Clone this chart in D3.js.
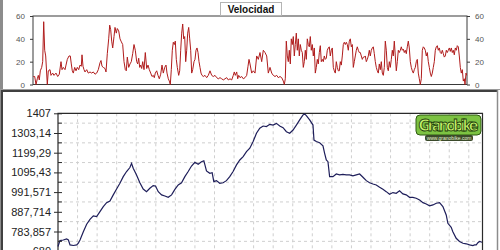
<!DOCTYPE html>
<html>
<head>
<meta charset="utf-8">
<script src="https://cdn.jsdelivr.net/npm/d3@7/dist/d3.min.js"></script>
<style>
body { margin: 0; background: #fff; }
svg { display: block; font-family: Arial, "Liberation Sans", sans-serif; }
</style>
</head>
<body>
<script>
(function(){

//speed profile: distance (km) and speed (km/h)
var speedKm = [0.03,0.17,0.30,0.43,0.53,0.63,0.73,0.87,0.97,1.07,1.17,1.27,1.43,1.53,1.70,1.80,1.97,2.10,2.30,2.47,2.63,2.80,2.90,3.03,3.20,3.30,3.43,3.60,3.73,3.83,3.93,4.03,4.17,4.30,4.43,4.57,4.70,4.83,4.90,5.00,5.10,5.20,5.37,5.53,5.70,5.87,6.03,6.20,6.37,6.53,6.70,6.80,6.90,7.03,7.20,7.30,7.43,7.57,7.67,7.77,7.87,7.97,8.10,8.20,8.33,8.43,8.57,8.70,8.80,8.97,9.10,9.23,9.33,9.43,9.57,9.70,9.83,9.97,10.10,10.23,10.37,10.47,10.57,10.67,10.77,10.87,10.97,11.10,11.23,11.37,11.50,11.63,11.77,11.90,12.03,12.13,12.23,12.37,12.50,12.63,12.77,12.90,13.03,13.17,13.30,13.40,13.53,13.63,13.73,13.83,13.93,14.03,14.13,14.23,14.33,14.43,14.57,14.67,14.77,14.87,14.97,15.07,15.17,15.27,15.37,15.47,15.57,15.67,15.77,15.87,15.97,16.10,16.20,16.30,16.40,16.50,16.60,16.70,16.80,16.90,17.03,17.20,17.37,17.53,17.70,17.87,18.03,18.20,18.37,18.53,18.70,18.87,19.03,19.20,19.37,19.53,19.70,19.87,20.03,20.13,20.23,20.37,20.47,20.57,20.70,20.87,21.03,21.20,21.37,21.50,21.60,21.70,21.87,22.03,22.20,22.37,22.53,22.70,22.87,23.03,23.20,23.37,23.53,23.70,23.87,24.03,24.20,24.37,24.53,24.70,24.87,25.03,25.13,25.23,25.33,25.43,25.53,25.63,25.73,25.83,25.93,26.03,26.13,26.23,26.33,26.43,26.53,26.63,26.73,26.83,26.93,27.03,27.13,27.23,27.33,27.43,27.53,27.63,27.73,27.83,27.93,28.03,28.13,28.23,28.33,28.43,28.53,28.63,28.73,28.83,28.93,29.03,29.13,29.23,29.33,29.43,29.53,29.63,29.73,29.83,29.93,30.03,30.13,30.23,30.33,30.43,30.53,30.63,30.73,30.83,30.93,31.03,31.13,31.23,31.33,31.43,31.53,31.63,31.73,31.83,31.93,32.03,32.13,32.23,32.33,32.43,32.53,32.63,32.73,32.83,32.93,33.03,33.13,33.23,33.33,33.43,33.53,33.63,33.73,33.83,33.93,34.03,34.13,34.23,34.33,34.43,34.53,34.63,34.73,34.83,34.93,35.03,35.13,35.23,35.33,35.43,35.53,35.63,35.73,35.83,35.93,36.03,36.13,36.23,36.33,36.43,36.53,36.63,36.73,36.83,36.93,37.03,37.13,37.23,37.33,37.43,37.53,37.63,37.73,37.83,37.93,38.03,38.13,38.23,38.33,38.43,38.53,38.63,38.73,38.83,38.93,39.03,39.13,39.23,39.33,39.43,39.53,39.63,39.73,39.83,39.93,40.03,40.13,40.23,40.33,40.43,40.53,40.63,40.73,40.83,40.93,41.03,41.13,41.23,41.33,41.43,41.53,41.63,41.73,41.83,41.93,42.03,42.13,42.23,42.33,42.43,42.53,42.63,42.73,42.83,42.93,43.03,43.13,43.20,43.30,43.37];
var speedVal = [7,7,0,5,8,4,12,15,20,55,30,25,0,12,13,8,10,8,10,7,9,20,13,15,13,17,22,25,25,18,12,10,15,12,15,13,17,16,26,16,13,11,13,10,11,10,11,9,10,13,19,21,16,15,14,11,27,40,52,48,38,32,42,50,45,49,47,40,38,35,20,13,12,24,15,18,20,27,35,30,20,18,23,15,17,14,20,13,28,14,17,13,10,7,8,6,10,12,8,5,9,17,10,15,17,10,5,3,0,13,30,37,35,38,22,15,8,12,30,45,53,40,42,20,30,45,50,40,30,10,13,20,22,30,32,28,20,15,10,8,7,8,6,8,12,8,7,8,6,5,6,5,4,5,6,4,5,4,8,11,8,11,5,8,6,7,5,6,8,16,22,18,10,12,10,25,22,28,20,30,28,25,10,15,10,8,7,8,6,7,6,3,0,5,38,25,20,30,18,40,35,42,25,35,45,30,40,25,35,30,28,15,20,30,22,40,35,33,42,30,35,25,32,10,15,22,18,28,34,20,22,20,25,22,23,30,32,33,25,30,32,15,12,10,20,15,12,12,20,17,25,35,37,35,37,35,30,38,40,33,35,15,20,25,30,33,30,28,28,25,22,24,24,25,20,22,25,30,25,30,32,33,27,20,15,12,10,18,13,20,10,8,15,38,30,15,12,20,15,22,30,25,38,25,12,20,30,28,30,33,30,31,28,30,27,33,38,32,20,15,12,10,13,15,20,22,10,5,0,5,30,33,32,30,25,28,20,15,10,7,10,15,20,30,33,34,30,32,28,27,30,27,24,25,30,28,30,32,29,32,28,30,26,32,30,34,33,25,15,10,13,3,5,0,10,8];

//elevation profile: distance (km) and altitude (m)
var elevKm = [0,0.20,0.54,0.88,1.06,1.23,1.57,1.91,2.08,2.25,2.59,2.93,3.27,3.61,3.95,4.29,4.63,4.97,5.31,5.65,5.99,6.33,6.67,7.01,7.35,7.52,7.69,8.03,8.37,8.71,9.05,9.39,9.73,9.97,10.25,10.59,10.93,11.27,11.61,11.95,12.29,12.63,12.97,13.31,13.65,13.99,14.33,14.67,14.91,15.18,15.52,15.76,15.93,16.20,16.54,16.88,17.22,17.56,17.90,18.25,18.59,18.93,19.27,19.61,19.95,20.29,20.63,20.97,21.31,21.65,21.99,22.33,22.67,23.01,23.35,23.69,24.03,24.37,24.71,25.05,25.22,25.39,25.73,26.07,26.17,26.41,26.75,27.09,27.26,27.43,27.60,27.77,28.11,28.45,28.79,29.13,29.47,29.81,30.15,30.50,30.84,31.18,31.52,31.86,32.20,32.54,32.88,33.22,33.56,33.90,34.24,34.58,34.92,35.26,35.60,35.94,36.28,36.62,36.97,37.31,37.65,37.99,38.33,38.67,39.01,39.35,39.69,39.86,40.20,40.37,40.71,41.05,41.40,41.74,42.08,42.42,42.59,42.76,42.93,43.10,43.35];
var elevVal = [705,736,739,745,739,713,710,713,722,739,783,822,848,866,862,889,915,936,945,977,1008,1038,1073,1100,1121,1143,1117,1082,1041,1008,994,1012,1026,1024,994,977,971,964,977,1006,1029,1041,1073,1100,1129,1149,1138,1152,1157,1103,1091,1094,1047,1052,1038,1041,1052,1073,1100,1135,1161,1179,1205,1223,1258,1302,1328,1340,1337,1349,1345,1354,1340,1331,1310,1302,1319,1345,1372,1398,1403,1395,1372,1345,1266,1258,1252,1235,1196,1161,1152,1073,1073,1087,1082,1085,1082,1082,1077,1082,1087,1070,1052,1041,1034,1029,1017,1006,994,980,989,985,998,982,977,964,964,959,950,936,929,919,924,933,936,915,871,827,806,783,748,731,722,719,713,710,713,713,725,731,727];

var speedTicks = [0, 20, 40, 60];
var elevTicks = [680, 783.857, 887.714, 991.571, 1095.43, 1199.29, 1303.14, 1407];
var elevLabels = ["680", "783,857", "887,714", "991,571", "1095,43", "1199,29", "1303,14", "1407"];
var totalKm = 43.4;
var chartTitle = "Velocidad";

window.onload = setChart();

function setChart(){

    var width = 500,
        height = 250;

    var svg = d3.select("body")
        .append("svg")
        .attr("width", width)
        .attr("height", height);

    //window frame pieces
    svg.append("rect")
        .attr("x", 0).attr("y", 0)
        .attr("width", 3).attr("height", height)
        .attr("fill", "#8c8c8c");
    svg.append("line")
        .attr("x1", 0).attr("x2", width)
        .attr("y1", 89.5).attr("y2", 89.5)
        .attr("stroke", "#9a9a9a");
    svg.append("line")
        .attr("x1", 2).attr("x2", 498)
        .attr("y1", 91).attr("y2", 91)
        .attr("stroke", "#404040")
        .attr("stroke-width", 2);
    svg.append("line")
        .attr("x1", 497.5).attr("x2", 497.5)
        .attr("y1", 90).attr("y2", height)
        .attr("stroke", "#8c8c8c")
        .attr("stroke-width", 1.5);
    svg.append("line")
        .attr("x1", 2).attr("x2", 2)
        .attr("y1", 90).attr("y2", height)
        .attr("stroke", "#404040")
        .attr("stroke-width", 2);

    drawSpeed(svg);
    drawElevation(svg);
};

//top panel: speed
function drawSpeed(svg){
    var x = d3.scaleLinear()
        .domain([0, totalKm])
        .range([33, 467]);
    var y = d3.scaleLinear()
        .domain([0, 60])
        .range([84.5, 16]);

    var g = svg.append("g");

    //plot frame
    g.append("rect")
        .attr("x", x(0)).attr("y", y(60))
        .attr("width", x(totalKm) - x(0))
        .attr("height", y(0) - y(60))
        .attr("fill", "none")
        .attr("stroke", "#3a3a3a");

    var line = d3.line()
        .x(function(d){ return x(d[0]); })
        .y(function(d){ return y(d[1]); });

    g.append("path")
        .datum(d3.zip(speedKm, speedVal))
        .attr("d", line)
        .attr("fill", "none")
        .attr("stroke", "#b01c1c")
        .attr("stroke-width", 1);

    //left and right axes
    var left = g.append("g")
        .attr("transform", "translate(" + x(0) + ",0)")
        .call(d3.axisLeft(y).tickValues(speedTicks).tickSize(3).tickPadding(5));
    var right = g.append("g")
        .attr("transform", "translate(" + x(totalKm) + ",0)")
        .call(d3.axisRight(y).tickValues(speedTicks).tickSize(3).tickPadding(5));
    [left, right].forEach(function(ax){
        ax.select(".domain").remove();
        ax.selectAll("line").attr("stroke", "#3a3a3a");
        ax.selectAll("text")
            .attr("font-size", 8)
            .attr("fill", "#555");
    });

    //title tab
    g.append("rect")
        .attr("x", 220.5).attr("y", 2.5)
        .attr("width", 61).attr("height", 13)
        .attr("fill", "#fff")
        .attr("stroke", "#b4b4b4");
    g.append("text")
        .attr("x", 251).attr("y", 12.5)
        .attr("text-anchor", "middle")
        .attr("font-size", 10)
        .attr("font-weight", "bold")
        .attr("fill", "#111")
        .text(chartTitle);
};

//bottom panel: elevation
function drawElevation(svg){
    var x = d3.scaleLinear()
        .domain([0, totalKm])
        .range([58, 482.5]);
    var y = d3.scaleLinear()
        .domain([680, 1407])
        .range([251.2, 113.3]);

    var g = svg.append("g");

    //dashed grid: every 2 km, and halfway between labelled ticks
    var midTicks = d3.pairs(elevTicks).map(function(p){ return (p[0] + p[1]) / 2; });

    g.selectAll(".vgrid")
        .data(d3.range(2, totalKm, 2))
        .enter()
        .append("line")
        .attr("class", "vgrid")
        .attr("x1", function(d){ return x(d); })
        .attr("x2", function(d){ return x(d); })
        .attr("y1", y(1407)).attr("y2", 260)
        .attr("stroke", "#cfcfcf")
        .attr("stroke-dasharray", "3,3");

    g.selectAll(".hgrid")
        .data(midTicks)
        .enter()
        .append("line")
        .attr("class", "hgrid")
        .attr("x1", x(0)).attr("x2", x(totalKm))
        .attr("y1", function(d){ return y(d); })
        .attr("y2", function(d){ return y(d); })
        .attr("stroke", "#cfcfcf")
        .attr("stroke-dasharray", "3,3");

    //frame
    g.append("path")
        .attr("d", "M" + x(0) + "," + 260 + "V" + y(1407) + "H" + x(totalKm) + "V" + 260)
        .attr("fill", "none")
        .attr("stroke", "#2a2a2a")
        .attr("stroke-width", 1.2);

    var line = d3.line()
        .x(function(d){ return x(d[0]); })
        .y(function(d){ return y(d[1]); });

    g.append("path")
        .datum(d3.zip(elevKm, elevVal))
        .attr("d", line)
        .attr("fill", "none")
        .attr("stroke", "#1e1e5a")
        .attr("stroke-width", 1.2);

    //left axis with minor ticks
    var ax = g.append("g")
        .attr("transform", "translate(" + x(0) + ",0)")
        .call(d3.axisLeft(y)
            .tickValues(elevTicks)
            .tickFormat(function(d, i){ return elevLabels[i]; })
            .tickSize(4)
            .tickPadding(3));
    ax.select(".domain").remove();
    ax.selectAll("line")
        .attr("x1", 4)
        .attr("stroke", "#2a2a2a");
    ax.selectAll("text")
        .attr("font-size", 11)
        .attr("fill", "#222");

    g.selectAll(".minor")
        .data(midTicks)
        .enter()
        .append("line")
        .attr("class", "minor")
        .attr("x1", x(0)).attr("x2", x(0) + 4)
        .attr("y1", function(d){ return y(d); })
        .attr("y2", function(d){ return y(d); })
        .attr("stroke", "#2a2a2a");

    drawLogo(g, 416, 115);
};

//site badge in the corner
function drawLogo(g, lx, ly){
    var logo = g.append("g")
        .attr("transform", "translate(" + lx + "," + ly + ")");
    logo.append("rect")
        .attr("width", 65).attr("height", 20)
        .attr("rx", 4)
        .attr("fill", "#7cc242")
        .attr("stroke", "#2f5a12");
    logo.append("text")
        .attr("x", 32.5).attr("y", 16)
        .attr("text-anchor", "middle")
        .attr("font-size", 16)
        .attr("font-weight", "bold")
        .attr("font-family", "'DejaVu Sans Condensed', 'Liberation Sans Narrow', sans-serif")
        .attr("textLength", 60)
        .attr("fill", "#c6f56a")
        .attr("stroke", "#1c3a0a")
        .attr("stroke-width", 0.8)
        .text("Granobike");
    logo.append("rect")
        .attr("x", 9).attr("y", 20)
        .attr("width", 48).attr("height", 6)
        .attr("rx", 2)
        .attr("fill", "#3b4a2a");
    logo.append("text")
        .attr("x", 33).attr("y", 25)
        .attr("text-anchor", "middle")
        .attr("font-size", 5)
        .attr("fill", "#e8f5d0")
        .text("www.granobike.com");
};

})();
</script>
</body>
</html>
